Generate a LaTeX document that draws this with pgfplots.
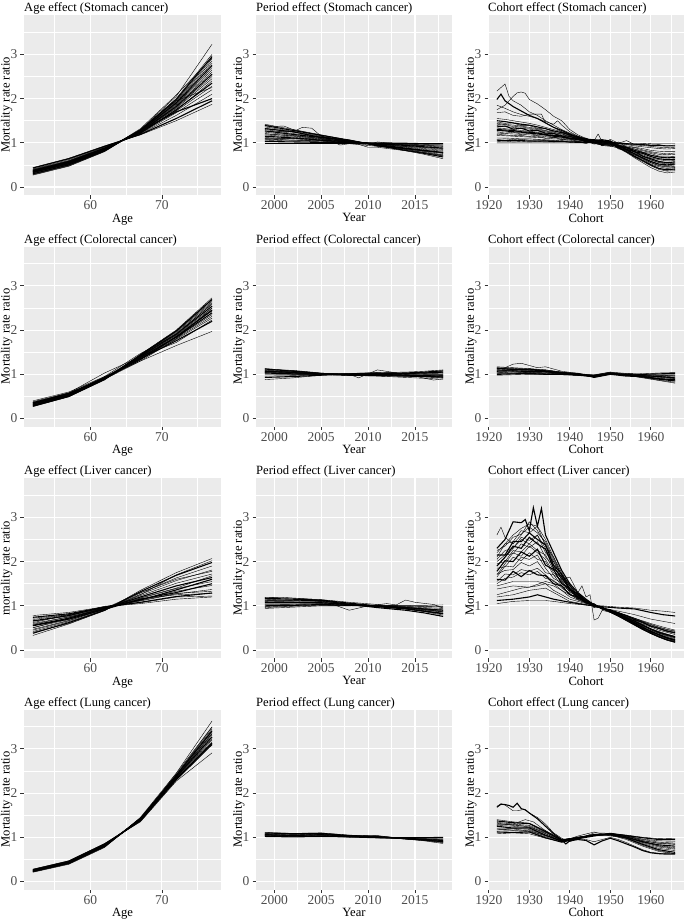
\documentclass[border=0pt]{standalone}
\usepackage{pgfplots}
\pgfplotsset{compat=1.18}
\usepackage{pgfplotstable}
\usepackage{fontspec}
\setmainfont{Liberation Serif}
\definecolor{panelbg}{HTML}{EBEBEB}
\definecolor{ticklab}{HTML}{4D4D4D}
\definecolor{tickcol}{HTML}{333333}
\pgfplotsset{
  gg/.style={
    scale only axis, height=180pt,
    axis background/.style={fill=panelbg},
    axis line style={draw=none},
    ymin=-0.18, ymax=3.89,
    ytick={0,1,2,3}, minor ytick={0.5,1.5,2.5,3.5},
    grid=both,
    major grid style={white, line width=1.1pt},
    minor grid style={white, line width=0.55pt},
    tick pos=left, tick align=outside,
    major tick length=3.5pt, minor tick length=0pt,
    tick style={tickcol, line width=0.8pt},
    ticklabel style={font=\fontsize{13.5}{14}\selectfont, text=ticklab},
    xticklabel style={inner sep=2pt},
    yticklabel style={inner sep=3pt},
    every axis y label/.style={at={(axis description cs:-0.0880,0.5)}, rotate=90, anchor=center, font=\fontsize{12.6}{14}\selectfont},
    every axis x label/.style={at={(axis description cs:0.5,0)}, anchor=north, yshift=-18.5pt, inner sep=0pt, font=\fontsize{12.6}{14}\selectfont},
    every axis title/.style={font=\fontsize{12.6}{14}\selectfont, at={(axis description cs:0,1)}, anchor=base west, yshift=3.3pt, inner sep=0pt},
    ylabel={Mortality rate ratio},
    cycle list={{black, line width=1.1pt, line join=round, mark=none}},
    no markers,
    /pgf/number format/assume math mode=true,
    /pgf/number format/1000 sep={},
    anchor=south west,
  },
  colA/.style={width=197pt, xmin=50.75, xmax=78.25, xtick={60,70}, minor xtick={55,65,75}, xlabel={Age}},
  colB/.style={width=196pt, xmin=1998.05, xmax=2018.95, xtick={2000,2005,2010,2015}, minor xtick={2002.5,2007.5,2012.5,2017.5}, xlabel={Year}},
  colC/.style={width=196pt, xmin=1919.8, xmax=1968.2, xtick={1920,1930,1940,1950,1960}, minor xtick={1925,1935,1945,1955,1965}, xlabel={Cohort}},
}
\newcommand{\ageL}[6]{\addplot coordinates {(52,#1)(57,#2)(62,#3)(67,#4)(72,#5)(77,#6)};}
\newcommand{\perL}[8]{\addplot coordinates {(1999,#1)(2002,#2)(2005,#3)(2008,#4)(2011,#5)(2014,#6)(2016,#7)(2018,#8)};}

% Cohort tables: first row = cohort years, each further row = one prefecture line
\pgfplotstableread[header=false]{
1922 1924 1926 1928 1930 1932 1934 1936 1938 1940 1942 1944 1946 1948 1950 1952 1954 1956 1958 1960 1962 1964 1966
1.00 1.00 1.00 1.00 1.00 1.00 1.00 1.00 1.00 1.00 1.00 1.00 1.00 1.00 1.00 1.00 0.99 0.99 0.99 0.98 0.98 0.98 0.98
1.06 1.05 1.05 1.05 1.04 1.04 1.04 1.03 1.03 1.02 1.01 1.01 1.02 1.03 1.02 0.99 0.98 0.97 0.96 0.94 0.94 0.93 0.93
1.11 1.11 1.10 1.09 1.09 1.08 1.07 1.06 1.05 1.04 1.03 1.02 0.98 0.96 0.97 0.98 0.96 0.93 0.91 0.89 0.87 0.86 0.87
1.17 1.16 1.15 1.14 1.13 1.12 1.11 1.09 1.08 1.06 1.04 1.03 1.04 1.05 1.03 0.96 0.93 0.90 0.87 0.83 0.81 0.80 0.80
1.22 1.21 1.20 1.19 1.18 1.16 1.14 1.12 1.10 1.08 1.06 1.04 0.99 0.95 0.94 0.95 0.91 0.86 0.82 0.78 0.74 0.73 0.74
1.28 1.27 1.25 1.24 1.22 1.20 1.18 1.15 1.13 1.10 1.07 1.05 1.05 1.07 1.04 0.94 0.89 0.83 0.78 0.72 0.68 0.66 0.67
1.33 1.32 1.30 1.28 1.26 1.24 1.21 1.18 1.15 1.12 1.08 1.05 1.00 0.97 0.95 0.93 0.87 0.80 0.73 0.66 0.62 0.59 0.60
1.39 1.37 1.35 1.33 1.31 1.28 1.25 1.21 1.18 1.14 1.10 1.06 1.06 1.04 1.00 0.92 0.85 0.76 0.69 0.61 0.55 0.52 0.54
1.44 1.42 1.40 1.38 1.35 1.32 1.28 1.24 1.20 1.16 1.11 1.07 1.00 0.94 0.92 0.90 0.82 0.73 0.64 0.55 0.49 0.46 0.47
1.50 1.48 1.45 1.42 1.40 1.36 1.32 1.27 1.23 1.18 1.13 1.08 1.07 1.05 1.01 0.89 0.80 0.69 0.60 0.50 0.42 0.39 0.41
1.55 1.53 1.50 1.47 1.44 1.40 1.35 1.30 1.25 1.20 1.14 1.09 1.01 0.96 0.93 0.88 0.78 0.66 0.55 0.44 0.36 0.32 0.34
1.08 1.09 1.07 1.08 1.06 1.07 1.05 1.05 1.03 1.04 1.02 1.01 1.01 0.99 1.02 0.98 0.97 0.95 0.94 0.92 0.90 0.89 0.90
1.25 1.22 1.24 1.20 1.21 1.17 1.17 1.12 1.13 1.08 1.08 1.03 1.05 0.98 1.00 0.95 0.89 0.86 0.79 0.76 0.70 0.70 0.69
1.36 1.38 1.31 1.33 1.27 1.28 1.22 1.21 1.15 1.15 1.08 1.10 1.01 1.02 0.99 0.94 0.85 0.80 0.70 0.64 0.58 0.55 0.57
1.47 1.44 1.45 1.39 1.39 1.33 1.32 1.25 1.24 1.16 1.14 1.06 1.06 0.99 1.00 0.88 0.83 0.70 0.63 0.52 0.46 0.42 0.44
1.03 1.04 1.02 1.03 1.02 1.03 1.02 1.02 1.04 1.01 1.03 0.98 1.06 0.95 1.08 0.99 1.05 0.96 0.98 0.95 0.96 0.93 0.95
1.19 1.18 1.16 1.17 1.14 1.15 1.10 1.13 1.07 1.09 1.03 1.06 0.97 1.04 0.93 1.02 0.90 0.89 0.84 0.80 0.77 0.75 0.77
1.30 1.29 1.28 1.25 1.24 1.22 1.19 1.16 1.16 1.10 1.10 1.02 1.07 0.95 1.04 0.91 0.90 0.80 0.76 0.69 0.64 0.62 0.63
1.42 1.41 1.37 1.36 1.33 1.30 1.27 1.22 1.21 1.13 1.12 1.04 1.07 0.93 1.02 0.86 0.84 0.72 0.67 0.57 0.51 0.48 0.50
}\cohAraw
\pgfplotstabletranspose{\cohA}{\cohAraw}

\pgfplotstableread[header=false]{
1922 1926 1930 1934 1938 1942 1946 1950 1954 1958 1962 1966
0.98 0.99 1.00 1.00 0.99 0.98 0.94 1.00 1.00 1.01 1.03 1.04
1.00 1.01 1.02 1.00 1.00 0.98 0.95 1.01 1.01 1.00 1.01 1.02
1.02 1.02 1.03 1.02 1.00 0.99 0.95 1.01 1.00 0.99 0.99 0.99
1.05 1.03 1.05 1.03 1.01 0.98 0.97 1.00 1.00 0.98 0.97 0.97
1.06 1.05 1.05 1.04 1.01 0.99 0.96 1.01 0.99 0.97 0.96 0.94
1.07 1.08 1.06 1.06 1.02 1.00 0.95 1.03 0.98 0.97 0.95 0.92
1.10 1.07 1.07 1.05 1.03 0.99 0.97 1.02 1.00 0.96 0.94 0.91
1.09 1.09 1.08 1.06 1.03 1.00 0.96 1.02 0.99 0.96 0.93 0.90
1.12 1.10 1.09 1.08 1.03 1.01 0.97 1.01 0.99 0.95 0.91 0.87
1.13 1.12 1.10 1.08 1.04 1.00 0.97 1.02 0.98 0.94 0.89 0.85
1.15 1.14 1.11 1.10 1.05 0.99 0.98 1.04 0.97 0.93 0.87 0.82
1.17 1.15 1.13 1.10 1.05 1.01 0.98 1.03 0.98 0.92 0.86 0.80
1.04 1.06 1.04 1.01 1.02 0.97 0.99 1.05 1.02 0.99 0.98 0.96
1.14 1.11 1.12 1.07 1.04 1.02 0.93 1.00 0.96 0.95 0.90 0.88
}\cohBraw
\pgfplotstabletranspose{\cohB}{\cohBraw}

\pgfplotstableread[header=false]{
1922 1924 1926 1928 1930 1932 1934 1936 1938 1940 1942 1944 1946 1948 1950 1952 1954 1956 1958 1960 1962 1964 1966
1.45 1.50 1.55 1.55 1.55 1.55 1.50 1.45 1.35 1.25 1.15 1.08 1.00 0.95 0.90 0.85 0.78 0.72 0.65 0.58 0.52 0.47 0.43
1.60 1.58 1.78 1.66 1.80 1.70 1.68 1.50 1.45 1.25 1.20 1.07 1.02 0.94 0.91 0.83 0.78 0.69 0.63 0.54 0.49 0.43 0.39
1.55 1.72 1.70 1.82 1.78 1.85 1.70 1.55 1.46 1.26 1.19 1.06 1.02 0.94 0.90 0.84 0.76 0.70 0.61 0.54 0.48 0.42 0.38
1.72 1.80 1.82 1.98 1.90 2.00 1.75 1.70 1.45 1.35 1.16 1.12 0.99 0.96 0.88 0.83 0.74 0.68 0.59 0.52 0.45 0.40 0.35
1.85 1.88 2.10 2.02 2.20 2.05 2.00 1.70 1.58 1.30 1.24 1.08 1.03 0.93 0.90 0.81 0.75 0.65 0.58 0.48 0.42 0.36 0.31
1.78 2.02 2.00 2.22 2.12 2.28 1.92 1.82 1.50 1.38 1.17 1.11 0.98 0.97 0.88 0.83 0.72 0.66 0.56 0.48 0.40 0.35 0.30
1.95 2.00 2.25 2.22 2.40 2.25 2.15 1.80 1.62 1.40 1.18 1.13 1.00 0.96 0.87 0.80 0.72 0.63 0.55 0.46 0.38 0.33 0.28
2.00 2.15 2.18 2.40 2.32 2.45 2.10 1.92 1.58 1.42 1.20 1.12 0.96 0.97 0.87 0.80 0.73 0.62 0.54 0.44 0.38 0.31 0.26
2.05 2.25 2.30 2.55 2.48 2.60 2.20 2.00 1.62 1.45 1.20 1.15 1.00 0.97 0.87 0.79 0.72 0.61 0.53 0.42 0.36 0.29 0.24
2.15 2.15 2.45 2.45 2.65 2.50 2.38 1.92 1.72 1.38 1.26 1.09 1.04 0.93 0.89 0.80 0.69 0.62 0.50 0.43 0.34 0.27 0.22
2.10 2.40 2.45 2.70 2.65 2.80 2.35 2.10 1.68 1.48 1.22 1.14 1.03 0.94 0.86 0.78 0.70 0.58 0.49 0.40 0.32 0.26 0.21
2.20 2.40 2.60 2.75 2.85 2.80 2.50 2.10 1.75 1.45 1.25 1.12 1.02 0.95 0.87 0.78 0.68 0.58 0.48 0.38 0.30 0.23 0.18
1.65 1.90 1.88 2.10 2.05 2.15 1.85 1.62 1.52 1.32 1.21 1.09 1.05 0.92 0.89 0.82 0.74 0.64 0.57 0.47 0.41 0.34 0.29
1.90 2.10 2.35 2.30 2.55 2.40 2.28 1.85 1.66 1.35 1.28 1.10 1.01 0.95 0.88 0.79 0.71 0.60 0.52 0.41 0.35 0.28 0.23
1.70 1.95 2.20 2.12 2.35 2.20 2.05 1.75 1.55 1.36 1.22 1.10 1.02 0.95 0.88 0.81 0.73 0.64 0.56 0.46 0.39 0.33 0.28
2.25 2.35 2.55 2.62 2.78 2.65 2.45 2.05 1.70 1.50 1.27 1.13 1.02 0.94 0.86 0.77 0.68 0.58 0.48 0.39 0.31 0.24 0.19
1.50 1.62 1.65 1.75 1.70 1.78 1.62 1.58 1.40 1.28 1.14 1.07 1.00 0.95 0.90 0.85 0.77 0.71 0.64 0.57 0.51 0.46 0.42
}\cohCraw
\pgfplotstabletranspose{\cohC}{\cohCraw}

\pgfplotstableread[header=false]{
1922 1926 1930 1934 1938 1942 1946 1950 1954 1958 1962 1966
1.08 1.10 1.08 0.98 0.90 0.98 1.05 1.08 1.05 1.00 0.97 0.98
1.12 1.11 1.12 0.99 0.89 0.97 1.03 1.09 1.04 0.99 0.95 0.95
1.14 1.15 1.13 1.01 0.91 0.98 1.05 1.07 1.03 0.96 0.92 0.91
1.17 1.19 1.14 1.04 0.92 1.00 1.07 1.06 1.03 0.95 0.89 0.87
1.21 1.20 1.18 1.05 0.92 0.99 1.05 1.07 1.02 0.93 0.86 0.84
1.25 1.21 1.21 1.05 0.91 0.97 1.06 1.08 1.01 0.90 0.83 0.80
1.27 1.25 1.22 1.08 0.93 0.99 1.05 1.06 1.00 0.89 0.81 0.77
1.30 1.29 1.23 1.11 0.94 1.01 1.04 1.05 1.00 0.88 0.78 0.73
1.34 1.30 1.27 1.12 0.94 1.00 1.05 1.06 0.99 0.86 0.75 0.70
1.37 1.33 1.31 1.13 0.93 0.99 1.06 1.07 0.98 0.84 0.72 0.66
1.40 1.35 1.32 1.15 0.95 1.00 1.05 1.05 0.97 0.82 0.70 0.63
1.19 1.16 1.16 1.03 0.93 0.96 1.10 1.09 1.04 0.92 0.87 0.85
1.32 1.27 1.25 1.09 0.90 1.03 1.12 1.03 0.99 0.91 0.80 0.75
}\cohDraw
\pgfplotstabletranspose{\cohD}{\cohDraw}

\begin{document}
\begin{tikzpicture}
\path[use as bounding box] (0,0) rectangle (685pt,-919pt);

% ===================== Row 1: Stomach =====================
\begin{axis}[gg, colA, at={(24pt,-195pt)}, title={Age effect (Stomach cancer)}]
\ageL{0.44}{0.65}{0.93}{1.18}{1.50}{1.87}
\ageL{0.43}{0.64}{0.92}{1.19}{1.55}{1.95}
\ageL{0.41}{0.62}{0.91}{1.20}{1.62}{2.10}
\ageL{0.40}{0.60}{0.90}{1.21}{1.68}{2.20}
\ageL{0.39}{0.59}{0.89}{1.22}{1.72}{2.28}
\ageL{0.38}{0.58}{0.88}{1.22}{1.75}{2.35}
\ageL{0.37}{0.58}{0.88}{1.23}{1.73}{2.40}
\ageL{0.37}{0.57}{0.87}{1.24}{1.78}{2.45}
\ageL{0.36}{0.56}{0.87}{1.24}{1.80}{2.50}
\ageL{0.36}{0.56}{0.86}{1.25}{1.82}{2.55}
\ageL{0.35}{0.55}{0.86}{1.25}{1.84}{2.60}
\ageL{0.35}{0.54}{0.85}{1.26}{1.86}{2.65}
\ageL{0.34}{0.54}{0.85}{1.26}{1.88}{2.70}
\ageL{0.33}{0.53}{0.84}{1.27}{1.90}{2.75}
\ageL{0.33}{0.52}{0.84}{1.27}{1.92}{2.80}
\ageL{0.32}{0.52}{0.83}{1.28}{1.94}{2.85}
\ageL{0.31}{0.51}{0.83}{1.28}{1.96}{2.90}
\ageL{0.30}{0.50}{0.82}{1.29}{1.98}{2.95}
\ageL{0.29}{0.49}{0.81}{1.29}{2.00}{3.00}
\ageL{0.27}{0.47}{0.80}{1.30}{2.05}{3.23}
\ageL{0.34}{0.52}{0.84}{1.30}{1.95}{2.25}
\ageL{0.36}{0.55}{0.86}{1.26}{1.70}{2.00}
\ageL{0.28}{0.48}{0.81}{1.32}{2.08}{2.92}
\end{axis}

\begin{axis}[gg, colB, at={(256pt,-195pt)}, title={Period effect (Stomach cancer)}]
\perL{1.00}{1.00}{1.00}{1.00}{1.00}{1.00}{1.00}{1.00}
\perL{1.03}{1.02}{1.01}{1.00}{1.00}{0.99}{0.98}{0.98}
\perL{1.06}{1.04}{1.03}{1.01}{0.99}{0.97}{0.96}{0.95}
\perL{1.09}{1.06}{1.04}{1.01}{0.99}{0.96}{0.94}{0.93}
\perL{1.12}{1.09}{1.05}{1.02}{0.98}{0.95}{0.93}{0.90}
\perL{1.15}{1.11}{1.06}{1.02}{0.98}{0.94}{0.91}{0.88}
\perL{1.18}{1.13}{1.08}{1.03}{0.97}{0.92}{0.89}{0.85}
\perL{1.21}{1.15}{1.09}{1.03}{0.97}{0.91}{0.87}{0.83}
\perL{1.24}{1.17}{1.10}{1.03}{0.97}{0.90}{0.85}{0.81}
\perL{1.27}{1.19}{1.12}{1.04}{0.96}{0.88}{0.83}{0.78}
\perL{1.30}{1.21}{1.13}{1.04}{0.96}{0.87}{0.81}{0.76}
\perL{1.33}{1.24}{1.14}{1.05}{0.95}{0.86}{0.80}{0.73}
\perL{1.36}{1.26}{1.15}{1.05}{0.95}{0.85}{0.78}{0.71}
\perL{1.39}{1.28}{1.17}{1.06}{0.94}{0.83}{0.76}{0.68}
\perL{1.42}{1.30}{1.18}{1.06}{0.94}{0.82}{0.74}{0.64}
\perL{1.08}{1.06}{1.05}{1.00}{0.97}{0.97}{0.95}{0.95}
\perL{1.20}{1.16}{1.10}{1.01}{0.98}{0.92}{0.90}{0.87}
\perL{1.32}{1.25}{1.12}{1.06}{0.93}{0.87}{0.82}{0.78}
\addplot coordinates {(1999,1.40)(2000,1.37)(2001,1.38)(2002,1.30)(2005,1.16)(2007,0.95)(2008,0.98)(2011,0.92)(2014,0.85)(2018,0.70)};
\addplot coordinates {(1999,1.25)(2001,1.26)(2002,1.25)(2003,1.35)(2004,1.33)(2005,1.15)(2008,1.03)(2010,0.90)(2011,0.90)(2014,0.82)(2016,0.78)(2018,0.72)};
\addplot coordinates {(1999,1.10)(2003,1.10)(2007,1.05)(2010,0.95)(2011,1.02)(2014,0.95)(2018,0.92)};
\end{axis}

\begin{axis}[gg, colC, at={(488pt,-195pt)}, title={Cohort effect (Stomach cancer)}]
\pgfplotsinvokeforeach{2,...,20}{\addplot table[x index=1, y index=#1]{\cohA};}
\addplot coordinates {(1922,2.17)(1924,2.33)(1925,2.05)(1926,1.95)(1928,1.85)(1930,1.70)(1932,1.62)(1934,1.50)(1936,1.40)(1938,1.30)(1940,1.22)(1942,1.15)(1944,1.08)(1946,1.05)(1948,1.00)(1950,0.97)(1952,0.90)(1954,0.80)(1956,0.70)(1958,0.60)(1960,0.50)(1962,0.42)(1964,0.38)(1966,0.40)};
\addplot coordinates {(1922,1.75)(1924,1.85)(1926,2.05)(1927,2.13)(1928,2.15)(1929,2.12)(1930,1.98)(1932,1.88)(1934,1.75)(1936,1.60)(1937,1.55)(1938,1.50)(1940,1.30)(1942,1.18)(1944,1.10)(1946,1.03)(1948,1.00)(1950,0.98)(1952,0.92)(1954,0.85)(1956,0.75)(1958,0.65)(1960,0.55)(1962,0.48)(1964,0.45)(1966,0.45)};
\addplot coordinates {(1922,1.98)(1923,2.10)(1924,1.95)(1926,1.82)(1928,1.72)(1930,1.62)(1932,1.55)(1934,1.45)(1936,1.35)(1938,1.28)(1940,1.20)(1942,1.12)(1944,1.06)(1946,1.02)(1948,1.00)(1950,0.97)(1952,0.92)(1954,0.84)(1956,0.75)(1958,0.66)(1960,0.58)(1962,0.52)(1964,0.50)(1966,0.52)};
\addplot coordinates {(1922,1.85)(1924,1.78)(1926,1.70)(1928,1.64)(1930,1.60)(1932,1.55)(1934,1.48)(1936,1.42)(1937,1.50)(1938,1.40)(1940,1.25)(1942,1.15)(1944,1.10)(1946,1.05)(1947,1.20)(1948,1.02)(1950,1.00)(1952,0.95)(1954,0.88)(1956,0.78)(1958,0.70)(1960,0.62)(1962,0.56)(1964,0.54)(1966,0.55)};
\addplot coordinates {(1922,1.68)(1924,1.70)(1926,1.62)(1928,1.60)(1930,1.65)(1933,1.65)(1934,1.45)(1936,1.35)(1938,1.25)(1940,1.18)(1942,1.10)(1944,1.05)(1946,1.00)(1948,0.98)(1950,0.96)(1952,0.90)(1954,0.80)(1956,0.68)(1958,0.58)(1960,0.48)(1962,0.40)(1964,0.36)(1966,0.37)};
\end{axis}

% ===================== Row 2: Colorectal =====================
\begin{axis}[gg, colA, at={(24pt,-426.5pt)}, title={Age effect (Colorectal cancer)}]
\ageL{0.40}{0.60}{0.95}{1.30}{1.65}{1.97}
\ageL{0.36}{0.57}{0.93}{1.35}{1.76}{2.20}
\ageL{0.35}{0.56}{0.92}{1.36}{1.79}{2.27}
\ageL{0.34}{0.55}{0.92}{1.37}{1.81}{2.31}
\ageL{0.34}{0.55}{0.92}{1.38}{1.83}{2.35}
\ageL{0.33}{0.54}{0.91}{1.38}{1.84}{2.39}
\ageL{0.32}{0.53}{0.91}{1.39}{1.86}{2.43}
\ageL{0.32}{0.53}{0.90}{1.40}{1.88}{2.46}
\ageL{0.31}{0.52}{0.90}{1.40}{1.89}{2.50}
\ageL{0.30}{0.52}{0.90}{1.41}{1.91}{2.54}
\ageL{0.30}{0.51}{0.89}{1.42}{1.93}{2.58}
\ageL{0.29}{0.51}{0.89}{1.43}{1.95}{2.62}
\ageL{0.28}{0.50}{0.89}{1.43}{1.97}{2.65}
\ageL{0.28}{0.50}{0.88}{1.44}{1.98}{2.69}
\ageL{0.27}{0.49}{0.88}{1.45}{2.00}{2.73}
\ageL{0.38}{0.58}{1.03}{1.40}{1.72}{2.23}
\ageL{0.33}{0.53}{0.95}{1.47}{1.90}{2.60}
\ageL{0.35}{0.57}{0.90}{1.33}{1.85}{2.45}
\ageL{0.29}{0.52}{0.93}{1.42}{1.98}{2.70}
\ageL{0.36}{0.55}{0.89}{1.30}{1.80}{2.50}
\end{axis}

\begin{axis}[gg, colB, at={(256pt,-426.5pt)}, title={Period effect (Colorectal cancer)}]
\perL{1.13}{1.08}{1.02}{1.00}{0.99}{0.97}{0.95}{0.93}
\perL{1.12}{1.07}{1.02}{0.99}{1.00}{0.98}{0.97}{0.96}
\perL{1.10}{1.06}{1.01}{1.00}{1.00}{0.99}{0.98}{0.97}
\perL{1.09}{1.05}{1.01}{0.98}{0.98}{0.96}{0.94}{0.92}
\perL{1.08}{1.05}{1.02}{1.01}{1.02}{1.01}{1.00}{1.00}
\perL{1.07}{1.04}{1.00}{0.98}{0.97}{0.96}{0.95}{0.94}
\perL{1.06}{1.03}{1.01}{0.99}{1.00}{0.99}{0.99}{0.99}
\perL{1.05}{1.03}{1.00}{1.00}{1.01}{1.00}{1.01}{1.02}
\perL{1.04}{1.02}{1.00}{0.97}{0.97}{0.96}{0.96}{0.95}
\perL{1.03}{1.01}{1.00}{1.01}{1.03}{1.02}{1.03}{1.05}
\perL{1.01}{1.00}{1.00}{0.99}{0.98}{0.97}{0.96}{0.97}
\perL{0.99}{0.99}{0.99}{1.00}{1.01}{1.01}{1.02}{1.04}
\perL{0.96}{0.97}{0.99}{1.00}{1.02}{1.02}{1.04}{1.07}
\perL{0.93}{0.95}{0.98}{1.01}{1.02}{1.03}{1.05}{1.08}
\perL{0.88}{0.92}{0.98}{1.02}{1.04}{1.05}{1.07}{1.10}
\perL{1.11}{1.09}{1.03}{0.98}{0.96}{0.93}{0.91}{0.89}
\addplot coordinates {(1999,1.05)(2002,1.08)(2005,1.02)(2008,1.00)(2009,0.92)(2011,1.10)(2014,1.00)(2017,0.87)(2018,0.90)};
\end{axis}

\begin{axis}[gg, colC, at={(488pt,-426.5pt)}, title={Cohort effect (Colorectal cancer)}]
\pgfplotsinvokeforeach{2,...,15}{\addplot table[x index=1, y index=#1]{\cohB};}
\addplot coordinates {(1922,1.10)(1924,1.15)(1926,1.23)(1928,1.25)(1930,1.20)(1932,1.15)(1934,1.17)(1936,1.12)(1938,1.07)(1942,1.02)(1946,0.98)(1950,1.05)(1954,1.00)(1958,0.95)(1962,0.90)(1966,0.85)};
\end{axis}

% ===================== Row 3: Liver =====================
\begin{axis}[gg, colA, at={(24pt,-658pt)}, title={Age effect (Liver cancer)}, ylabel={mortality rate ratio}]
\ageL{0.78}{0.85}{0.98}{1.05}{1.15}{1.20}
\ageL{0.74}{0.82}{0.97}{1.08}{1.21}{1.29}
\ageL{0.69}{0.80}{0.96}{1.11}{1.27}{1.37}
\ageL{0.65}{0.77}{0.95}{1.14}{1.33}{1.46}
\ageL{0.60}{0.75}{0.94}{1.17}{1.39}{1.55}
\ageL{0.56}{0.72}{0.94}{1.20}{1.45}{1.64}
\ageL{0.51}{0.69}{0.93}{1.23}{1.51}{1.72}
\ageL{0.47}{0.67}{0.92}{1.26}{1.57}{1.81}
\ageL{0.42}{0.64}{0.91}{1.29}{1.63}{1.90}
\ageL{0.38}{0.62}{0.90}{1.32}{1.69}{1.98}
\ageL{0.33}{0.59}{0.89}{1.35}{1.75}{2.07}
\ageL{0.72}{0.80}{0.99}{1.07}{1.20}{1.22}
\ageL{0.62}{0.80}{0.95}{1.12}{1.28}{1.33}
\ageL{0.55}{0.70}{0.92}{1.15}{1.30}{1.50}
\ageL{0.45}{0.66}{0.94}{1.30}{1.60}{1.78}
\ageL{0.50}{0.73}{0.96}{1.18}{1.40}{1.68}
\ageL{0.40}{0.60}{0.90}{1.25}{1.70}{2.02}
\ageL{0.66}{0.78}{0.97}{1.13}{1.36}{1.60}
\ageL{0.58}{0.75}{0.93}{1.16}{1.25}{1.28}
\end{axis}

\begin{axis}[gg, colB, at={(256pt,-658pt)}, title={Period effect (Liver cancer)}]
\perL{1.19}{1.17}{1.14}{1.08}{1.03}{0.97}{0.92}{0.86}
\perL{1.17}{1.15}{1.13}{1.06}{1.00}{0.94}{0.88}{0.82}
\perL{1.15}{1.12}{1.10}{1.05}{1.00}{0.95}{0.90}{0.86}
\perL{1.12}{1.11}{1.10}{1.04}{0.99}{0.93}{0.87}{0.79}
\perL{1.10}{1.09}{1.08}{1.04}{1.00}{0.96}{0.92}{0.88}
\perL{1.08}{1.08}{1.07}{1.03}{0.98}{0.93}{0.88}{0.83}
\perL{1.06}{1.06}{1.06}{1.03}{1.00}{0.97}{0.94}{0.91}
\perL{1.04}{1.04}{1.05}{1.02}{0.99}{0.95}{0.91}{0.87}
\perL{1.02}{1.03}{1.04}{1.02}{1.00}{0.98}{0.96}{0.94}
\perL{1.00}{1.01}{1.03}{1.01}{0.99}{0.96}{0.93}{0.90}
\perL{0.98}{1.00}{1.02}{1.01}{1.00}{0.99}{0.98}{0.97}
\perL{0.96}{0.99}{1.01}{1.01}{1.01}{1.00}{0.99}{0.98}
\perL{0.94}{0.97}{1.00}{1.00}{1.01}{1.01}{1.01}{1.02}
\perL{1.13}{1.13}{1.12}{1.03}{0.96}{0.90}{0.84}{0.76}
\addplot coordinates {(1999,1.18)(2001,1.19)(2004,1.15)(2006,1.05)(2008,0.90)(2010,1.00)(2012,1.05)(2013,1.02)(2014,1.13)(2015,1.08)(2017,1.03)(2018,0.95)};
\end{axis}

\begin{axis}[gg, colC, at={(488pt,-658pt)}, title={Cohort effect (Liver cancer)}]
\pgfplotsinvokeforeach{2,...,18}{\addplot table[x index=1, y index=#1]{\cohC};}
\addplot coordinates {(1922,2.30)(1924,2.50)(1926,2.90)(1928,2.88)(1929,2.95)(1930,2.70)(1931,3.22)(1932,2.80)(1933,3.20)(1934,2.60)(1936,2.20)(1938,1.80)(1940,1.50)(1942,1.30)(1944,1.15)(1946,1.02)(1948,0.95)(1950,0.86)(1952,0.77)(1954,0.67)(1956,0.57)(1958,0.47)(1960,0.38)(1962,0.30)(1964,0.23)(1966,0.18)};
\addplot coordinates {(1922,2.60)(1923,2.78)(1924,2.55)(1926,2.40)(1928,2.60)(1930,2.90)(1932,2.70)(1934,2.40)(1936,2.00)(1938,1.70)(1940,1.45)(1942,1.25)(1944,1.10)(1946,1.00)(1948,0.93)(1950,0.85)(1952,0.76)(1954,0.66)(1956,0.56)(1958,0.46)(1960,0.37)(1962,0.29)(1964,0.22)(1966,0.17)};
\addplot coordinates {(1922,1.90)(1924,2.10)(1926,2.30)(1928,2.50)(1930,2.40)(1932,2.60)(1934,2.30)(1936,1.90)(1938,1.60)(1940,1.65)(1942,1.30)(1943,1.45)(1944,1.20)(1945,1.25)(1946,0.68)(1947,0.72)(1948,0.90)(1950,0.85)(1952,0.78)(1954,0.68)(1956,0.58)(1958,0.48)(1960,0.38)(1962,0.30)(1964,0.24)(1966,0.20)};
\addplot coordinates {(1922,1.05)(1926,1.10)(1930,1.12)(1934,1.12)(1936,1.10)(1940,1.05)(1944,1.02)(1948,1.00)(1952,0.97)(1956,0.95)(1960,0.90)(1963,0.88)(1966,0.85)};
\addplot coordinates {(1922,1.12)(1926,1.15)(1930,1.20)(1932,1.25)(1934,1.20)(1936,1.15)(1940,1.08)(1944,1.02)(1948,0.98)(1952,0.95)(1956,0.93)(1960,0.85)(1963,0.80)(1966,0.77)};
\addplot coordinates {(1922,1.20)(1926,1.25)(1930,1.35)(1934,1.40)(1936,1.30)(1940,1.10)(1944,1.03)(1948,0.95)(1952,0.88)(1956,0.80)(1960,0.70)(1963,0.65)(1966,0.60)};
\addplot coordinates {(1922,1.25)(1924,1.30)(1928,1.40)(1932,1.45)(1934,1.50)(1936,1.35)(1940,1.15)(1944,1.05)(1948,0.95)(1952,0.85)(1956,0.72)(1960,0.60)(1963,0.52)(1966,0.45)};
\addplot coordinates {(1922,1.38)(1926,1.45)(1930,1.42)(1934,1.55)(1936,1.50)(1940,1.20)(1944,1.06)(1948,0.94)(1952,0.82)(1956,0.68)(1960,0.55)(1963,0.46)(1966,0.40)};
\end{axis}

% ===================== Row 4: Lung =====================
\begin{axis}[gg, colA, at={(24pt,-889.5pt)}, title={Age effect (Lung cancer)}]
\ageL{0.28}{0.47}{0.86}{1.35}{2.27}{2.91}
\ageL{0.26}{0.45}{0.83}{1.38}{2.32}{3.13}
\ageL{0.26}{0.44}{0.83}{1.39}{2.33}{3.16}
\ageL{0.25}{0.44}{0.82}{1.39}{2.34}{3.20}
\ageL{0.25}{0.43}{0.82}{1.40}{2.35}{3.23}
\ageL{0.25}{0.43}{0.82}{1.40}{2.36}{3.27}
\ageL{0.24}{0.43}{0.81}{1.41}{2.37}{3.31}
\ageL{0.24}{0.42}{0.81}{1.41}{2.38}{3.34}
\ageL{0.23}{0.42}{0.80}{1.42}{2.39}{3.38}
\ageL{0.23}{0.41}{0.80}{1.42}{2.40}{3.41}
\ageL{0.23}{0.41}{0.79}{1.43}{2.41}{3.45}
\ageL{0.22}{0.41}{0.79}{1.43}{2.41}{3.49}
\ageL{0.21}{0.39}{0.77}{1.45}{2.45}{3.63}
\ageL{0.27}{0.46}{0.85}{1.37}{2.30}{3.10}
\ageL{0.24}{0.43}{0.80}{1.44}{2.40}{3.40}
\ageL{0.25}{0.42}{0.83}{1.38}{2.36}{3.35}
\ageL{0.22}{0.40}{0.78}{1.41}{2.44}{3.50}
\end{axis}

\begin{axis}[gg, colB, at={(256pt,-889.5pt)}, title={Period effect (Lung cancer)}]
\perL{1.11}{1.09}{1.10}{1.05}{1.03}{0.97}{0.93}{0.88}
\perL{1.10}{1.08}{1.09}{1.04}{1.02}{0.97}{0.94}{0.90}
\perL{1.09}{1.07}{1.08}{1.04}{1.02}{0.98}{0.95}{0.92}
\perL{1.08}{1.06}{1.08}{1.03}{1.01}{0.97}{0.94}{0.91}
\perL{1.07}{1.05}{1.07}{1.03}{1.01}{0.98}{0.96}{0.94}
\perL{1.06}{1.04}{1.06}{1.03}{1.00}{0.97}{0.95}{0.93}
\perL{1.05}{1.03}{1.05}{1.02}{1.00}{0.98}{0.97}{0.96}
\perL{1.04}{1.02}{1.04}{1.02}{0.99}{0.97}{0.96}{0.95}
\perL{1.03}{1.02}{1.03}{1.01}{0.99}{0.98}{0.98}{0.98}
\perL{1.02}{1.01}{1.02}{1.01}{0.99}{0.99}{0.99}{1.00}
\perL{1.06}{1.09}{1.07}{1.02}{1.04}{0.96}{0.92}{0.86}
\perL{1.04}{1.05}{1.05}{1.00}{1.01}{0.96}{0.93}{0.89}
\end{axis}

\begin{axis}[gg, colC, at={(488pt,-889.5pt)}, title={Cohort effect (Lung cancer)}]
\pgfplotsinvokeforeach{2,...,14}{\addplot table[x index=1, y index=#1]{\cohD};}
\addplot coordinates {(1922,1.68)(1923,1.75)(1924,1.74)(1925,1.72)(1926,1.68)(1927,1.77)(1928,1.65)(1929,1.62)(1930,1.55)(1932,1.42)(1934,1.25)(1936,1.08)(1938,0.95)(1939,0.85)(1940,0.92)(1942,0.95)(1944,0.93)(1946,0.83)(1948,0.92)(1950,0.98)(1952,0.92)(1954,0.85)(1956,0.78)(1958,0.70)(1960,0.65)(1962,0.63)(1964,0.62)(1966,0.62)};
\addplot coordinates {(1922,1.70)(1923,1.76)(1924,1.73)(1926,1.60)(1927,1.60)(1928,1.62)(1929,1.63)(1930,1.55)(1932,1.45)(1934,1.30)(1936,1.10)(1938,0.98)(1940,0.90)(1942,0.97)(1944,0.95)(1946,0.90)(1948,0.95)(1950,1.00)(1952,0.95)(1954,0.88)(1956,0.80)(1958,0.72)(1960,0.66)(1962,0.64)(1964,0.63)(1966,0.64)};
\addplot coordinates {(1922,1.30)(1926,1.30)(1929,1.40)(1931,1.35)(1934,1.15)(1938,0.95)(1942,0.98)(1946,1.05)(1950,1.05)(1954,0.95)(1958,0.80)(1962,0.68)(1966,0.63)};
\end{axis}
\end{tikzpicture}
\end{document}
